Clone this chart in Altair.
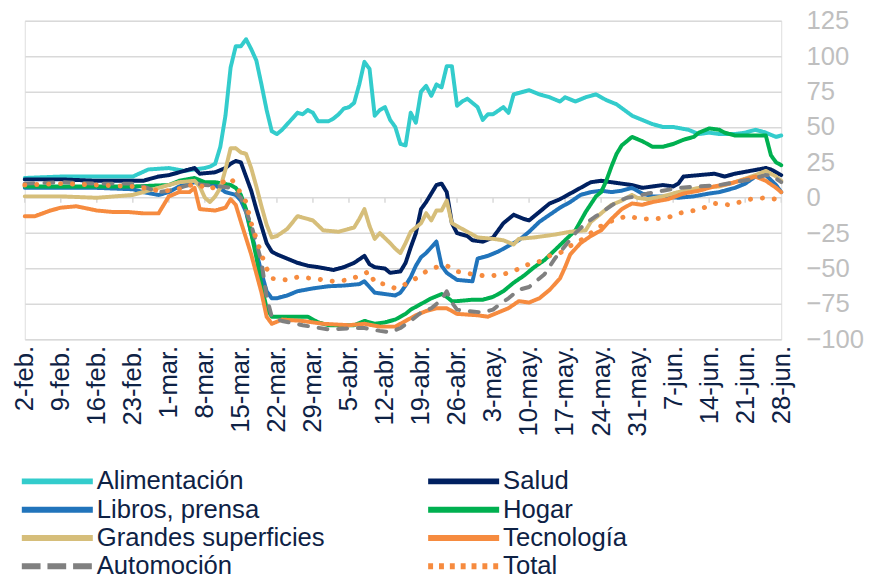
import altair as alt
import pandas as pd

SERIES = ["Alimentación", "Salud", "Libros, prensa", "Hogar",
          "Grandes superficies", "Tecnología", "Automoción", "Total"]
COLORS = ["#33CCCC", "#002060", "#2174BB", "#00B050",
          "#D6BE7A", "#F68B3F", "#808080", "#F68B3F"]

# day offsets from 2-feb-2020 and values (% change)
AL_D = [0,7,14,21,24,28,31,35,36,37,38,39,40,41,42,43,44,45,46,47,48,49,50,51,53,54,55,56,57,59,60,61,62,63,64,65,66,67,68,69,70,71,72,73,74,75,76,77,78,79,80,81,82,83,84,85,86,87,88,89,90,91,93,94,95,97,98,100,102,104,105,107,109,111,113,115,118,120,122,124,126,129,131,133,135,138,140,142,144,146,147]
AL_V = [14,15,15,15,20,21,19,21,22,24,36,58,92,107,107,112,105,97,80,62,47,45,48,52,60,59,62,60,54,54,56,59,63,64,67,80,96,91,58,62,64,55,50,38,37,60,53,75,79,72,80,78,93,93,65,68,70,67,64,55,59,59,64,60,73,75,76,73,71,68,71,68,71,73,69,66,58,55,52,50,50,48,45,46,45,45,46,48,46,43,44]

SA_D = [0,7,14,21,23,26,28,30,33,34,37,39,40,41,42,43,44,45,46,47,48,49,51,53,55,57,60,62,64,66,67,68,70,71,73,74,75,76,77,78,79,80,81,82,83,84,85,86,87,89,91,93,95,97,98,100,102,104,106,108,110,112,114,116,118,120,122,124,126,127,128,131,134,136,138,141,144,145,147]
SA_V = [13,13,12,12,12,15,16,18,21,17,18,21,24,26,25,15,5,-8,-20,-32,-38,-40,-43,-46,-48,-49,-51,-49,-46,-41,-47,-49,-50,-53,-52,-46,-35,-25,-8,-3,3,9,10,4,-18,-25,-26,-27,-30,-31,-28,-18,-12,-15,-16,-10,-4,-1,3,7,11,12,11,10,9,7,8,9,8,10,15,16,17,15,17,19,21,20,16]

LI_D = [0,7,14,21,23,26,28,30,33,37,39,41,42,43,44,45,46,47,48,49,51,53,56,59,62,65,66,68,70,72,73,74,75,76,77,78,79,80,81,82,84,87,88,90,92,94,96,98,100,102,104,106,108,110,112,114,116,118,120,122,124,127,130,133,135,138,140,142,144,146,147]
LI_V = [7,7,7,6,4,2,4,8,11,9,4,2,-2,-10,-25,-38,-53,-66,-71,-71,-69,-66,-64,-62.5,-62,-61,-59,-67,-68,-69,-67,-62,-56,-48,-42,-39,-35,-31,-48,-53,-58,-59,-43,-41,-38,-34,-30,-24,-17,-12,-7,-3,2,4,5,4,5,7,3,1,1,0,1,3,4,7,10,15,16,9,4]

HO_D = [0,7,14,21,28,30,33,35,37,40,41,42,43,44,45,46,47,48,50,55,57,59,64,66,68,70,72,74,75,77,79,81,82,83,84,87,89,91,93,95,97,99,101,103,105,107,109,111,112,113,114,115,116,117,118,120,122,124,126,128,130,131,133,135,136,138,141,144,145,146,147]
HO_V = [8,8,8,8,9,12,14,11,11,9,7,2,-8,-25,-42,-62,-78,-84,-84,-84,-88,-90,-90,-87,-89,-88,-86,-82,-79,-75,-71,-68,-70,-73,-73,-72,-72,-70,-66,-60,-55,-49,-44,-37,-30,-23,-10,1,4,12,22,31,37,40,43,40,36,36,38,41,43,46,49,48,46,44,44,44,30,25,23]

GS_D = [0,7,14,21,24,27,30,33,34,35,36,37,38,39,40,41,42,43,44,45,46,47,48,49,51,53,56,58,61,64,65,66,67,68,69,71,72,73,74,75,77,78,79,80,81,82,83,84,86,88,91,93,95,96,99,103,106,109,110,112,114,116,118,119,121,124,127,131,135,138,142,144,146,147]
GS_V = [1,1,0,2,5,8,11,12,8,0,-3,1,7,20,35,35,32,31,21,8,-6,-19,-28,-27,-22,-13,-16,-23,-24,-21,-15,-8,-20,-29,-25,-32,-36,-39,-32,-24,-18,-11,-16,-9,-9,-2,-18,-20,-24,-28,-29,-30,-33,-29,-28,-26,-24,-23,-17,-11,-5,-2,2,0,-1,1,4,7,8,11,16,19,15,12]

TE_D = [0,2,5,7,10,14,17,20,23,26,28,30,32,33,34,37,39,40,41,42,44,46,47,48,50,54,58,63,66,69,72,74,76,78,80,82,84,88,90,92,94,96,98,100,102,104,105,106,108,110,112,114,116,118,120,122,125,128,131,134,137,140,142,144,146,147]
TE_V = [-13,-13,-9,-7,-6,-9,-10,-10,-11,-11,1,4,4,7,-8,-9,-7,-1,-5,-17,-40,-67,-84,-89,-86,-87,-89,-90,-89,-91,-91,-87,-83,-80,-78,-78,-82,-83,-84,-81,-78,-73,-74,-71,-65,-57,-49,-40,-32,-27,-23,-15,-8,-4,-5,-3,-1,3,5,8,10,13,15,12,7,4]

AU_D = [0,7,14,21,23,26,28,31,33,35,38,40,42,44,46,47,48,50,54,59,64,66,69,71,73,75,77,79,81,82,83,84,86,89,91,92,94,96,98,100,101,103,105,107,109,111,113,115,117,119,121,124,127,131,135,138,141,144,145,147]
AU_V = [10,11,10,10,8,4,5,8,10,9,8,7,0,-19,-45,-70,-84,-87,-90,-93,-92,-92,-94,-95,-92,-87,-81,-78,-72,-66,-74,-79,-80,-81,-79,-76,-71,-65,-63,-57,-54,-43,-34,-25,-18,-13,-8,-3,0,1,3,5,7,8,9,11,13,16,16,11]

TO_D = [0,7,14,21,23,26,28,31,33,36,38,40,41,43,44,46,47,48,51,53,56,60,63,65,67,68,70,72,74,76,78,80,82,84,87,89,91,93,95,97,100,102,104,106,109,111,113,115,117,120,122,125,127,130,132,134,137,139,141,144,146,147]
TO_V = [9,10,9,8,7,5,5,7,10,6,10,14,9,-3,-18,-40,-50,-57,-58,-56,-57,-59,-58,-55,-52,-60,-61,-64,-61,-57,-52,-49,-48,-52,-54,-55,-55,-54,-52,-48,-45,-41,-39,-34,-28,-22,-18,-15,-13,-15,-15,-14,-11,-9,-7,-4,-5,-3,-1,0,-1,-1]

MESES = ["ene", "feb", "mar", "abr", "may", "jun", "jul"]
BASE = pd.Timestamp("2020-02-02")
TICK_DAYS = list(range(0, 148, 7))

SERIES_DATA = [(AL_D, AL_V), (SA_D, SA_V), (LI_D, LI_V), (HO_D, HO_V),
               (GS_D, GS_V), (TE_D, TE_V), (AU_D, AU_V), (TO_D, TO_V)]

rows = []
for name, (ds, vs) in zip(SERIES, SERIES_DATA):
    for d, v in zip(ds, vs):
        rows.append({"Fecha": (BASE + pd.Timedelta(days=d)).strftime("%Y-%m-%d"),
                     "Valor": v, "Serie": name})
df = pd.DataFrame(rows)

ticks_df = pd.DataFrame({"Fecha": [(BASE + pd.Timedelta(days=d)).strftime("%Y-%m-%d")
                                   for d in TICK_DAYS]})


def dt(d):
    t = BASE + pd.Timedelta(days=d)
    return alt.DateTime(year=t.year, month=t.month, date=t.day, utc=True)


FONT = "Liberation Sans"
TEXT = "#0E2245"

label_expr = ("utcdate(datum.value) + '-' + " + str(MESES) +
              "[utcmonth(datum.value)] + '.'")

x_scale = alt.Scale(type="utc", domain=[dt(0), dt(147)])
x_axis = alt.Axis(values=[dt(d) for d in TICK_DAYS], labelExpr=label_expr,
                  labelAngle=-90, labelFontSize=26, labelFont=FONT,
                  labelColor=TEXT, labelPadding=6, labelOverlap=False,
                  labelFlush=False, domain=False, ticks=False, grid=False)
y_scale = alt.Scale(domain=[-100, 125], nice=False, zero=False)
y_axis = alt.Axis(orient="right", values=list(range(-100, 126, 25)),
                  grid=True, gridColor="#D9D9D9", gridWidth=1.5,
                  domain=False, ticks=False, labelFontSize=26,
                  labelFont=FONT, labelColor="#BFBFBF", labelPadding=25,
                  labelOverlap=False)

x_enc = alt.X("Fecha:T", scale=x_scale, axis=x_axis, title=None)
y_enc = alt.Y("Valor:Q", scale=y_scale, axis=y_axis, title=None)

color_enc = alt.Color(
    "Serie:N", scale=alt.Scale(domain=SERIES, range=COLORS), sort=SERIES,
    legend=alt.Legend(
        title=None, orient="none", legendX=-6, legendY=454,
        direction="horizontal", columns=2, columnPadding=101, rowPadding=2.7,
        clipHeight=26,
        symbolType="stroke", symbolSize=5184, symbolStrokeWidth=6,
        labelFontSize=26, labelFont=FONT, labelColor=TEXT, labelOffset=1,
        padding=0, labelLimit=400))

# legend dash patterns (legend symbols are drawn with butt caps)
LEGEND_DASHES = [[1, 0]] * 6 + [[19, 7], [5, 6]]
dash_enc = alt.StrokeDash("Serie:N",
                          scale=alt.Scale(domain=SERIES, range=LEGEND_DASHES),
                          sort=SERIES, legend=alt.Legend(title=None))

solid = alt.Chart(df).transform_filter(
    alt.FieldOneOfPredicate(field="Serie", oneOf=SERIES[:6])
).mark_line(strokeWidth=4, strokeCap="round", strokeJoin="round").encode(
    x=x_enc, y=y_enc, color=color_enc, strokeDash=dash_enc,
)

auto = alt.Chart(df).transform_filter(
    alt.datum.Serie == "Automoción"
).mark_line(strokeWidth=4, strokeCap="round", strokeJoin="round",
            strokeDash=[9, 11]).encode(x=x_enc, y=y_enc, color=color_enc)

total = alt.Chart(df).transform_filter(
    alt.datum.Serie == "Total"
).mark_line(strokeWidth=5, strokeCap="round", strokeJoin="round",
            strokeDash=[0.1, 12]).encode(x=x_enc, y=y_enc, color=color_enc)

ticks = alt.Chart(ticks_df).mark_rule(color="#D9D9D9", strokeWidth=1.5).encode(
    x=x_enc,
    y=alt.YDatum(0, scale=y_scale, axis=y_axis),
    y2=alt.datum(-3.5),
)

chart = alt.layer(ticks, solid, auto, total).properties(
    width=767, height=323,
    padding={"left": 17, "top": 9, "right": 90, "bottom": 240},
    autosize=alt.AutoSizeParams(type="none"),
).configure_view(stroke=None).configure_axis(
    labelOverlap=False
).configure(background="white")

chart.save("out.html", embed_options={"renderer": "svg", "actions": False})
